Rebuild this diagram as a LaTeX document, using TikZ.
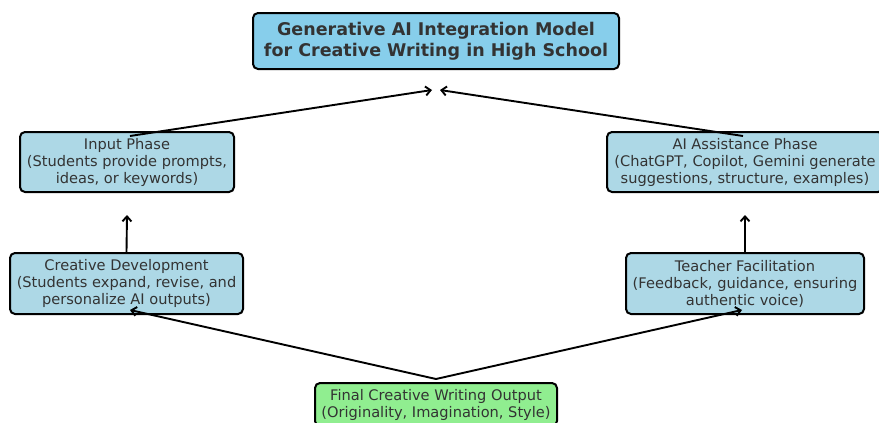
\documentclass[tikz,border=0pt]{standalone}
\usepackage{fontspec}
\setmainfont{DejaVu Sans}
\usetikzlibrary{arrows.meta}

\definecolor{skyblue}{HTML}{87CEEB}
\definecolor{lightblue}{HTML}{ADD8E6}
\definecolor{lightgreen}{HTML}{90EE90}
\definecolor{textgray}{HTML}{333333}

\begin{document}
\begin{tikzpicture}[x=1pt, y=-1pt,
        box/.style={draw, line width=2pt, rounded corners=5pt, text=textgray, align=center,
            inner sep=0pt, font=\fontsize{14.6}{17}\selectfont},
        link/.style={line width=1.9pt, -{Straight Barb[length=5pt,width=9pt]}}]
        \useasboundingbox (0,0) rectangle (879,423);
        % boxes
        \node[box, fill=skyblue, minimum width=366pt, minimum height=56pt,
            font=\bfseries\fontsize{17.5}{20.5}\selectfont] (title) at (436,41)
            {Generative AI Integration Model\\for Creative Writing in High School};
        \node[box, fill=lightblue, minimum width=214pt, minimum height=60pt] (input) at (127,162)
            {Input Phase\\(Students provide prompts,\\ideas, or keywords)};
        \node[box, fill=lightblue, minimum width=276pt, minimum height=60pt] (assist) at (745,162)
            {AI Assistance Phase\\(ChatGPT, Copilot, Gemini generate\\suggestions, structure, examples)};
        \node[box, fill=lightblue, minimum width=233pt, minimum height=61pt] (develop) at (126.5,283.5)
            {Creative Development\\(Students expand, revise, and\\personalize AI outputs)};
        \node[box, fill=lightblue, minimum width=238pt, minimum height=61pt] (teacher) at (745,283.5)
            {Teacher Facilitation\\(Feedback, guidance, ensuring\\authentic voice)};
        \node[box, fill=lightgreen, minimum width=242pt, minimum height=43pt] (output) at (436,404.5)
            {Final Creative Writing Output\\(Originality, Imagination, Style)};
        % free arrow ends
        \coordinate (titleleft) at (432,90);
        \coordinate (titleright) at (440,90);
        \coordinate (inputbelow) at (127,215);
        \coordinate (assistbelow) at (745,215);
        \coordinate (developin) at (130,310);
        \coordinate (teacherin) at (742,310);
        % arrows
        \draw[link] ([xshift=3pt,yshift=-5pt]input.north) -- (titleleft);
        \draw[link] ([xshift=-2pt,yshift=-5pt]assist.north) -- (titleright);
        \draw[link] (develop.north) -- (inputbelow);
        \draw[link] (teacher.north) -- (assistbelow);
        \draw[link] ([yshift=3pt]output.north) -- (developin);
        \draw[link] ([yshift=3pt]output.north) -- (teacherin);
\end{tikzpicture}
\end{document}
